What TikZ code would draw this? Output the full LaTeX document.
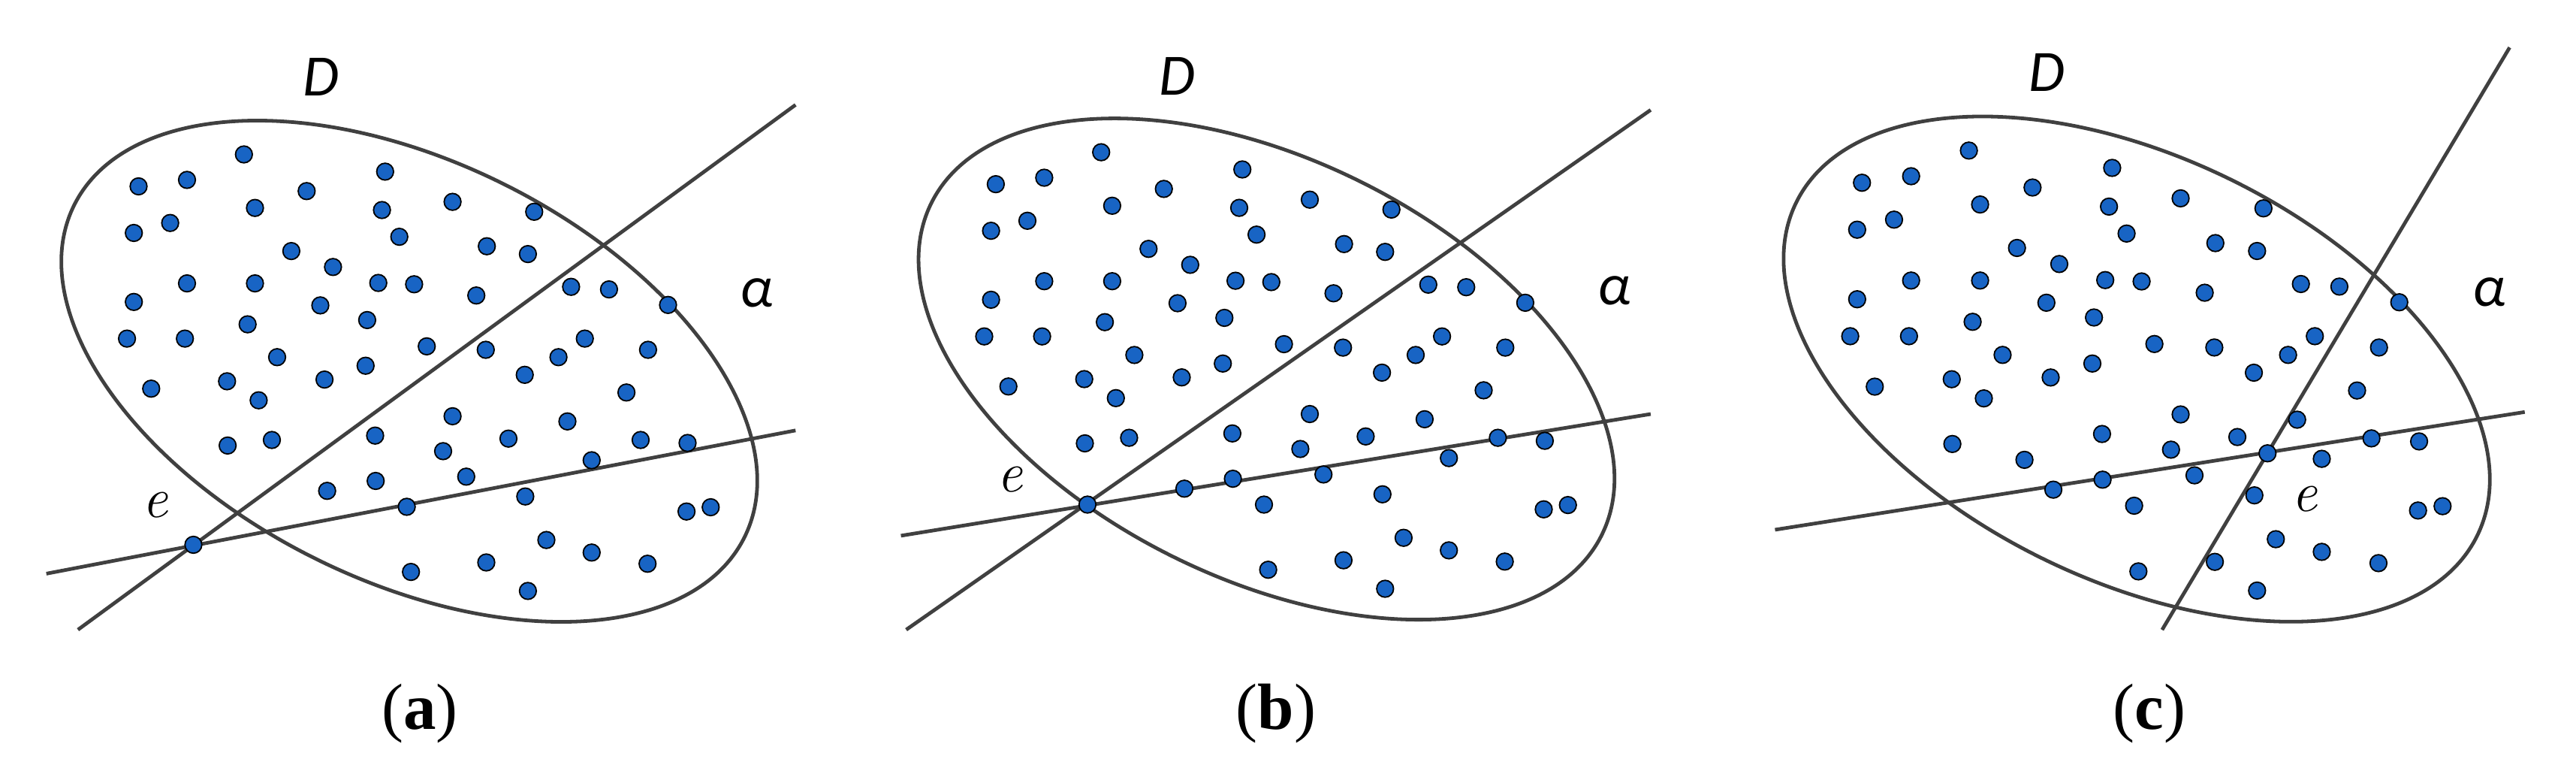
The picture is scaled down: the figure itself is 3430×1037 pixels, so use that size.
\documentclass[tikz,border=0pt]{standalone}
\usepackage{fontspec}
\newfontfamily\calfont{Carlito}
\newfontfamily\capfont{Liberation Serif}
\definecolor{dotblue}{RGB}{24,100,196}
\definecolor{linegray}{RGB}{64,64,64}
\def\dotlist{
(184.5,248.0),(249.0,239.4),(324.8,205.5),(408.3,254.3),(512.8,228.4),
(339.5,276.7),(508.6,279.5),(602.6,268.6),(711.3,281.8),(178.2,310.0),
(226.6,296.7),(531.7,315.1),(387.9,334.1),(648.2,327.7),(702.9,338.1),
(443.4,355.3),(249.0,377.1),(339.5,377.1),(503.7,376.5),(551.4,378.3),
(634.2,393.2),(760.4,381.7),(810.9,385.1),(889.5,405.8),(178.2,401.8),
(426.5,406.4),(488.9,425.9),(329.7,431.6),(169.1,450.6),(246.2,450.6),
(778.7,450.6),(568.2,460.9),(646.8,465.5),(862.9,465.5),(369.0,475.3),
(743.6,475.3),(486.8,486.7),(698.7,498.8),(201.3,517.2),(302.3,507.4),
(432.1,505.1),(344.4,532.7),(834.1,522.3),(602.6,553.9),(755.5,560.8),
(303.1,592.9),(499.5,579.7),(677.0,583.7),(853.0,585.5),(915.5,589.5),
(590.0,600.4),(787.8,612.5),(620.8,634.3),(435.6,653.2),(500.2,640.0),
(699.4,660.7),(541.6,674.4),(914.1,680.7),(946.3,675.0),(727.5,718.6),
(787.8,735.3),(647.5,748.5),(862.2,750.2),(547.2,761.1),(702.9,786.4)}
\tikzset{
  dot/.style={circle,fill=dotblue,draw=black,line width=1.8pt,minimum size=22.5pt,inner sep=0pt},
  gline/.style={draw=linegray,line width=4.8pt},
  lblsans/.style={inner sep=0pt,font=\calfont\itshape\fontsize{78}{90}\selectfont},
  lble/.style={inner sep=0pt,font=\itshape\fontsize{76}{90}\selectfont},
  capt/.style={inner sep=0pt,font=\capfont\fontsize{87}{100}\selectfont}
}
\newcommand{\regionellipse}{%
  \begin{scope}[shift={(545,494)},rotate=-26.3]
    \draw[gline] (0,0) ellipse [x radius=498pt, y radius=279pt];
  \end{scope}}
\newcommand{\alldots}[1]{%
  \foreach \p [count=\i] in \dotlist {\node[dot] (#1-\i) at \p {};}}
\begin{document}
\begin{tikzpicture}[x=1pt,y=-1pt]
\useasboundingbox (0,0) rectangle (3430,1037);
% ---------- panel (a)
\begin{scope}
  \coordinate (a-s1) at (103.8,838.0);
  \coordinate (a-s2) at (1059.3,139.5);
  \coordinate (a-t1) at (61.7,763.4);
  \coordinate (a-t2) at (1059.3,572.8);
  \regionellipse
  \draw[gline] (a-s1) -- (a-s2);
  \draw[gline] (a-t1) -- (a-t2);
  \alldots{a}
  \node[dot] (a-x) at (362.0,585.5) {};
  \node[dot] (a-e) at (257.5,725.0) {};
  \node[lblsans] (a-D) at (427,102) {D};
  \node[lblsans] (a-al) at (1008,390) {α};
  \node[lble] (a-el) at (207,672) {e};
\end{scope}
% ---------- panel (b)
\begin{scope}[shift={(1141.4,-2.9)}]
  \coordinate (b-s1) at (65.2,840.9);
  \coordinate (b-s2) at (1056.5,149.2);
  \coordinate (b-t1) at (58.2,715.8);
  \coordinate (b-t2) at (1056.5,553.9);
  \regionellipse
  \draw[gline] (b-s1) -- (b-s2);
  \draw[gline] (b-t1) -- (b-t2);
  \alldots{b}
  \node[dot] (b-x) at (362.0,585.5) {};
  \node[dot] (b-e) at (306.6,674.4) {};
  \node[lblsans] (b-D) at (426.5,104) {D};
  \node[lblsans] (b-al) at (1008,390) {α};
  \node[lble] (b-el) at (203.4,641.4) {e};
\end{scope}
% ---------- panel (c)
\begin{scope}[shift={(2292,-6.8)},xscale=1.0148,yscale=1.008]
  \coordinate (c-s1) at (578.2,838.1);
  \coordinate (c-s2) at (1034.1,69.4);
  \coordinate (c-t1) at (70.4,706.0);
  \coordinate (c-t2) at (1053.9,550.6);
  \regionellipse
  \draw[gline] (c-s1) -- (c-s2);
  \draw[gline] (c-t1) -- (c-t2);
  \alldots{c}
  \node[dot] (c-x) at (397.7,613.8) {};
  \node[dot] (c-e) at (716.6,605.2) {};
  \node[lblsans] (c-D) at (427,102) {D};
  \node[lblsans] (c-al) at (1007.8,392.6) {α};
  \node[lble] (c-el) at (765.3,665.9) {e};
\end{scope}
% ---------- captions
\node[capt] (capa) at (559,950) {(\textbf{a})};
\node[capt] (capb) at (1699,950) {(\textbf{b})};
\node[capt] (capc) at (2862,950) {(\textbf{c})};
\end{tikzpicture}
\end{document}
